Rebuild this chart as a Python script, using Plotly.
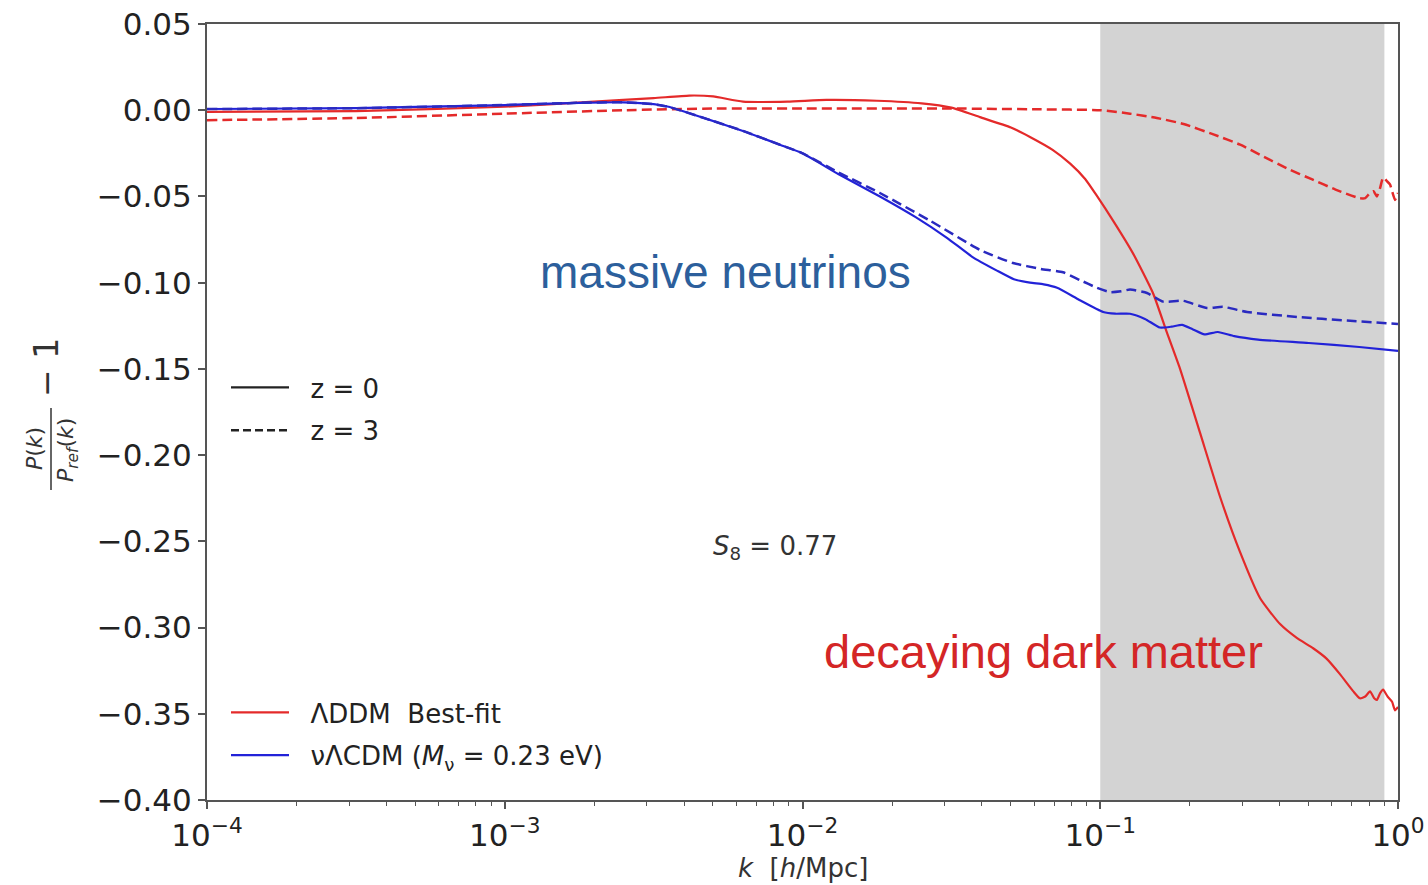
import plotly.graph_objects as go

# ---------------- data ----------------
# log10(k) positions and P(k)/P_ref(k) - 1 values
ddm_z0_logk = [-4.0, -3.5, -3.0, -2.7, -2.5, -2.38, -2.3, -2.2, -2.05, -1.92, -1.75, -1.6, -1.5,
               -1.404, -1.3, -1.236, -1.16, -1.101, -1.05, -1.01, -0.957, -0.89, -0.823, -0.776,
               -0.732, -0.665, -0.598, -0.531, -0.463, -0.396, -0.34, -0.285, -0.24, -0.195,
               -0.15, -0.128, -0.11, -0.094, -0.08, -0.071, -0.06, -0.05, -0.035, -0.02, -0.01, 0.0]
ddm_z0_val = [-0.001, -0.0005, 0.002, 0.005, 0.007, 0.0085, 0.008, 0.005, 0.005, 0.006, 0.0055, 0.004, 0.0015,
              -0.004, -0.010, -0.0155, -0.023, -0.031, -0.04, -0.05, -0.064, -0.083, -0.106, -0.129,
              -0.15, -0.187, -0.224, -0.256, -0.283, -0.298, -0.306, -0.312, -0.318, -0.327,
              -0.337, -0.341, -0.340, -0.337, -0.341, -0.342, -0.338, -0.336, -0.340, -0.343, -0.348, -0.346]

ddm_z3_logk = [-4.0, -3.5, -3.0, -2.6, -2.3, -2.0, -1.5, -1.2, -1.0, -0.9, -0.81, -0.72, -0.62, -0.53,
               -0.45, -0.37, -0.29, -0.21, -0.13, -0.11, -0.094, -0.082, -0.071, -0.06, -0.05,
               -0.038, -0.027, -0.01, 0.0]
ddm_z3_val = [-0.0058, -0.0045, -0.002, 0.0, 0.001, 0.001, 0.001, 0.0005, 0.0, -0.002, -0.0045, -0.008,
              -0.014, -0.020, -0.027, -0.034, -0.040, -0.046, -0.051, -0.051, -0.048, -0.047, -0.050,
              -0.045, -0.039, -0.041, -0.043, -0.052, -0.048]

nu_z0_logk = [-4.0, -3.5, -3.0, -2.75, -2.6, -2.5, -2.45, -2.34, -2.2, -2.076, -2.0, -1.88, -1.74,
              -1.62, -1.515, -1.43, -1.347, -1.29, -1.236, -1.19, -1.145, -1.07, -0.99, -0.95, -0.9,
              -0.85, -0.8, -0.76, -0.725, -0.69, -0.65, -0.605, -0.55, -0.47, -0.3, -0.13, 0.0]
nu_z0_val = [0.0007, 0.0012, 0.003, 0.0043, 0.0046, 0.0035, 0.002, -0.004, -0.012, -0.020, -0.025,
             -0.037, -0.050, -0.062, -0.074, -0.085, -0.093, -0.098, -0.100, -0.101, -0.103, -0.110,
             -0.117, -0.118, -0.118, -0.121, -0.126, -0.1255, -0.1245, -0.127, -0.130, -0.1286,
             -0.131, -0.133, -0.135, -0.1373, -0.1396]

nu_z3_logk = [-4.0, -3.5, -3.0, -2.75, -2.6, -2.5, -2.45, -2.34, -2.2, -2.076, -2.0, -1.88, -1.74,
              -1.572, -1.404, -1.293, -1.2, -1.125, -1.068, -1.011, -0.967, -0.93, -0.9, -0.843,
              -0.789, -0.722, -0.642, -0.588, -0.507, -0.339, -0.171, 0.0]
nu_z3_val = [0.0007, 0.0012, 0.003, 0.0043, 0.0046, 0.0035, 0.002, -0.004, -0.012, -0.020, -0.025,
             -0.036, -0.048, -0.064, -0.081, -0.0886, -0.092, -0.094, -0.0985, -0.103, -0.1055,
             -0.105, -0.104, -0.106, -0.111, -0.1105, -0.1147, -0.114, -0.117, -0.1199, -0.122, -0.124]

shade_k = [0.1, 0.9]

x_tickvals = [1e-4, 1e-3, 1e-2, 1e-1, 1e0]
x_ticktext = ["10<sup>\u22124</sup>", "10<sup>\u22123</sup>", "10<sup>\u22122</sup>",
              "10<sup>\u22121</sup>", "10<sup>0</sup>"]
y_tickvals = [0.05, 0.0, -0.05, -0.10, -0.15, -0.20, -0.25, -0.30, -0.35, -0.40]
y_ticktext = ["0.05", "0.00", "\u22120.05", "\u22120.10", "\u22120.15", "\u22120.20",
              "\u22120.25", "\u22120.30", "\u22120.35", "\u22120.40"]
minor_vals = [m * 10 ** e for e in (-4, -3, -2, -1) for m in range(2, 10)]

RED = "#e42a2a"
BLUE = "#2222d8"
TICKFONT = dict(family="DejaVu Sans", size=31, color="#222222")
AXCOL = "#555555"
NB = "\u00a0\u00a0"


def to_k(logs):
    return [10 ** v for v in logs]


fig = go.Figure()

fig.add_trace(go.Scatter(x=to_k(ddm_z0_logk), y=ddm_z0_val, mode="lines",
                         line=dict(color=RED, width=2.2, shape="spline", smoothing=0.5),
                         name=NB + "\u039bDDM  Best-fit", legend="legend2", legendgroup="a"))
fig.add_trace(go.Scatter(x=to_k(nu_z0_logk), y=nu_z0_val, mode="lines",
                         line=dict(color=BLUE, width=2.2, shape="spline", smoothing=0.5),
                         name=NB + "\u03bd\u039bCDM (<i>M</i><sub>\u03bd</sub> = 0.23 eV)",
                         legend="legend2", legendgroup="b"))
fig.add_trace(go.Scatter(x=to_k(ddm_z3_logk), y=ddm_z3_val, mode="lines",
                         line=dict(color=RED, width=2.5, dash="10px,5px", shape="spline", smoothing=0.5),
                         showlegend=False))
fig.add_trace(go.Scatter(x=to_k(nu_z3_logk), y=nu_z3_val, mode="lines",
                         line=dict(color="#2a2ac0", width=2.5, dash="10px,5px", shape="spline",
                                   smoothing=0.5),
                         showlegend=False))
# style legend entries
fig.add_trace(go.Scatter(x=[None], y=[None], mode="lines", line=dict(color="#222222", width=2.4),
                         name=NB + "z = 0", legend="legend", legendgroup="c"))
fig.add_trace(go.Scatter(x=[None], y=[None], mode="lines",
                         line=dict(color="#222222", width=2.4, dash="8px,4px"),
                         name=NB + "z = 3", legend="legend", legendgroup="d"))

# shaded k range
fig.add_vrect(x0=shade_k[0], x1=shade_k[1], fillcolor="#d3d3d3", line_width=0, layer="below")

fig.update_xaxes(type="log", range=[-4, 0], tickvals=x_tickvals, ticktext=x_ticktext,
                 tickfont=TICKFONT, ticks="outside", ticklen=7, tickwidth=1.5, tickcolor=AXCOL,
                 showline=True, linecolor=AXCOL, linewidth=2, mirror=True, showgrid=False,
                 zeroline=False, automargin=False,
                 minor=dict(tickvals=minor_vals, ticks="outside", ticklen=4, tickwidth=1,
                            tickcolor=AXCOL, showgrid=False))
fig.update_yaxes(range=[-0.40, 0.05], tickvals=y_tickvals, ticktext=y_ticktext,
                 tickfont=TICKFONT, ticks="outside", ticklen=7, tickwidth=1.5, tickcolor=AXCOL,
                 showline=True, linecolor=AXCOL, linewidth=2, mirror=True, showgrid=False,
                 zeroline=False, automargin=False)


def px_x(px):
    return (px - 207) / 1191


def px_y(py):
    return (800 - py) / 776


annots = [
    dict(x=px_x(725), y=px_y(272), text="massive neutrinos",
         font=dict(family="Liberation Sans", size=46, color="#2c5f9c")),
    dict(x=px_x(1043), y=px_y(651), text="decaying dark matter",
         font=dict(family="Liberation Sans", size=47, color="#d42626")),
    dict(x=px_x(775), y=px_y(547), text="<i>S</i><sub>8</sub> = 0.77",
         font=dict(family="DejaVu Sans", size=26, color="#333333")),
    dict(x=px_x(803), y=px_y(868), text="<i>k</i>  [<i>h</i>/Mpc]",
         font=dict(family="DejaVu Sans", size=26, color="#333333")),
    dict(x=px_x(34), y=px_y(449), text="<i>P</i>(<i>k</i>)", textangle=-90,
         font=dict(family="DejaVu Sans", size=22, color="#333333")),
    dict(x=px_x(67), y=px_y(450), text="<i>P</i><sub><i>ref</i></sub>(<i>k</i>)", textangle=-90,
         font=dict(family="DejaVu Sans", size=22, color="#333333")),
    dict(x=px_x(46), y=px_y(368), text="\u2212 1", textangle=-90,
         font=dict(family="DejaVu Sans", size=33, color="#333333")),
]
for a in annots:
    fig.add_annotation(xref="paper", yref="paper", showarrow=False, xanchor="center",
                       yanchor="middle", **a)

fig.add_shape(type="line", xref="paper", yref="paper", x0=px_x(51), x1=px_x(51),
              y0=px_y(408), y1=px_y(490), line=dict(color="#333333", width=1.5))

fig.update_layout(
    width=1428, height=885,
    margin=dict(l=207, r=30, t=24, b=85),
    plot_bgcolor="white", paper_bgcolor="white",
    legend=dict(x=px_x(226), y=px_y(409), xanchor="left", yanchor="middle",
                font=dict(family="DejaVu Sans", size=26, color="#222222"),
                bgcolor="rgba(0,0,0,0)", tracegroupgap=6, itemwidth=58),
    legend2=dict(x=px_x(226), y=px_y(734), xanchor="left", yanchor="middle",
                 font=dict(family="DejaVu Sans", size=26, color="#222222"),
                 bgcolor="rgba(0,0,0,0)", tracegroupgap=6, itemwidth=58),
)

fig.write_html("out.html")
